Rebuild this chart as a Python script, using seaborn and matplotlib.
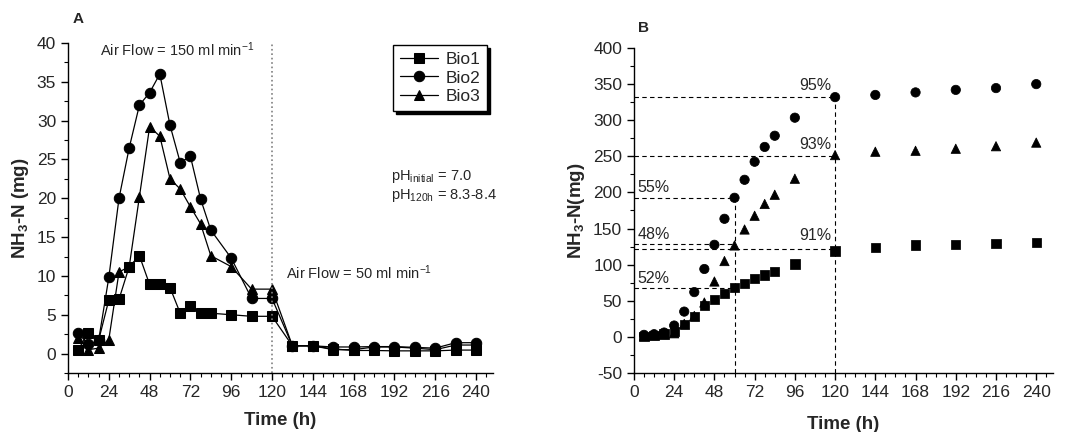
import numpy as np
import pandas as pd
import seaborn as sns
import matplotlib.pyplot as plt
from matplotlib.ticker import MultipleLocator

# Panel A: NH3-N per sampling (mg)
time_a = [6, 12, 18, 24, 30, 36, 42, 48, 54, 60, 66, 72, 78, 84, 96, 108, 120,
          132, 144, 156, 168, 180, 192, 204, 216, 228, 240]
bio1_a = [0.5, 2.7, 1.7, 6.9, 7.0, 11.2, 12.6, 8.9, 8.9, 8.5, 5.2, 6.1, 5.2, 5.2, 5.0, 4.8, 4.8,
          1.0, 1.0, 0.6, 0.4, 0.4, 0.35, 0.35, 0.35, 0.45, 0.45]
bio2_a = [2.6, 1.2, 1.7, 9.8, 20.0, 26.5, 32.0, 33.6, 36.0, 29.4, 24.6, 25.4, 19.9, 15.9, 12.3, 7.1, 7.1,
          1.0, 1.0, 0.85, 0.85, 0.9, 0.9, 0.8, 0.7, 1.4, 1.4]
bio3_a = [2.0, 0.5, 0.7, 1.8, 10.5, 11.2, 20.2, 29.2, 28.0, 22.5, 21.2, 18.9, 16.7, 12.6, 11.2, 8.3, 8.3,
          1.0, 1.0, 0.5, 0.5, 0.85, 0.85, 0.7, 0.5, 1.1, 1.1]

# Panel B: cumulative NH3-N (mg)
time_b = [6, 12, 18, 24, 30, 36, 42, 48, 54, 60, 66, 72, 78, 84, 96, 120, 144, 168, 192, 216, 240]
bio1_b = [0.5, 2.3, 4.2, 7.4, 17.5, 28, 43, 51.7, 60.5, 68.8, 74, 80.4, 85.5, 90.5, 100.7, 119,
          124, 127, 128, 129.3, 131]
bio2_b = [2.8, 3.7, 6, 15.7, 35, 62, 94, 127.5, 163.5, 192.6, 217.5, 242.5, 263, 278.5, 303.5, 332,
          335, 338.5, 342, 344.5, 350]
bio3_b = [1.4, 2.3, 3.7, 5, 18, 29, 47.6, 76.7, 105, 126.6, 148.7, 167.7, 184, 196.8, 219, 251.7,
          256.4, 257.7, 260.5, 264, 269]

series = ["Bio1", "Bio2", "Bio3"]
marks = ["s", "o", "^"]

# percentage guides: (label, y, x end, label x, label y)
guides = [("95%", 332, 120, 118, 342), ("93%", 250, 120, 118, 260),
          ("55%", 192, 60, 2, 201), ("48%", 128, 60, 2, 136),
          ("91%", 121, 120, 118, 134), ("52%", 68, 60, 2, 75)]

df_a = pd.DataFrame({"time": time_a * 3, "value": bio1_a + bio2_a + bio3_a,
                     "reactor": np.repeat(series, len(time_a))})
df_b = pd.DataFrame({"time": time_b * 3, "value": bio1_b + bio2_b + bio3_b,
                     "reactor": np.repeat(series, len(time_b))})

sns.set_theme(style="ticks")
plt.rcParams["font.family"] = ["Liberation Sans", "DejaVu Sans"]
plt.rcParams["mathtext.fontset"] = "custom"
plt.rcParams["mathtext.rm"] = "Liberation Sans"
plt.rcParams["mathtext.it"] = "Liberation Sans:italic"
plt.rcParams["mathtext.bf"] = "Liberation Sans:bold"
plt.rcParams["axes.unicode_minus"] = False
plt.rcParams["xtick.labelsize"] = 12.5
plt.rcParams["ytick.labelsize"] = 12.5

fig = plt.figure(figsize=(10.66, 4.32), dpi=100)
ax1 = fig.add_axes([0.0638, 0.1366, 0.3987, 0.7639])
ax2 = fig.add_axes([0.5947, 0.1366, 0.3931, 0.7523])

sns.lineplot(data=df_a, x="time", y="value", hue="reactor", style="reactor",
             markers=marks, dashes=False, palette=["black"] * 3, ax=ax1,
             markersize=7.5, linewidth=0.9, markeredgecolor="black")
ax1.axvline(120, color="gray", linestyle=":", linewidth=1.2)
ax1.set_xlim(0, 250)
ax1.set_ylim(-2.5, 40)
ax1.set_xticks(range(0, 241, 24))
ax1.xaxis.set_minor_locator(MultipleLocator(6))
ax1.yaxis.set_major_locator(MultipleLocator(5))
ax1.yaxis.set_minor_locator(MultipleLocator(2.5))
ax1.set_xlabel("Time (h)", fontsize=13.5, fontweight="bold", labelpad=9)
ax1.set_ylabel(r"NH$_\mathbf{3}$-N (mg)", fontsize=13.5, fontweight="bold")
ax1.text(64, 38.3, r"Air Flow = 150 ml min$^{-1}$", ha="center", fontsize=10.5)
ax1.text(171, 9.6, r"Air Flow = 50 ml min$^{-1}$", ha="center", fontsize=10.5)
ax1.text(190, 22.3, r"pH$_{\mathrm{initial}}$ = 7.0", fontsize=10.5)
ax1.text(190, 19.9, r"pH$_{\mathrm{120h}}$ = 8.3-8.4", fontsize=10.5)
leg = ax1.legend(loc="upper right", bbox_to_anchor=(0.994, 1.005), fancybox=False,
                 edgecolor="black", framealpha=1, fontsize=12.5, handlelength=2.2,
                 labelspacing=0.2, borderaxespad=0.2, handletextpad=0.4,
                 shadow={"color": "black", "alpha": 1})
leg.get_frame().set_linewidth(1.0)
ax1.text(0.01, 1.06, "A", transform=ax1.transAxes, fontsize=11, fontweight="bold",
         ha="left")

sns.scatterplot(data=df_b, x="time", y="value", hue="reactor", style="reactor",
                markers=marks, palette=["black"] * 3, ax=ax2, s=45,
                edgecolor="black", legend=False)
for label, yv, xe, lx, ly in guides:
    ax2.plot([0, xe], [yv, yv], color="black", linestyle="--", linewidth=0.8, dashes=(4, 3))
    ax2.text(lx, ly, label, ha="right" if lx > 50 else "left", fontsize=11.5)
ax2.plot([60, 60], [-50, 192], color="black", linestyle="--", linewidth=0.8, dashes=(4, 3))
ax2.plot([120, 120], [-50, 332], color="black", linestyle="--", linewidth=0.8, dashes=(4, 3))
ax2.set_xlim(0, 250)
ax2.set_ylim(-50, 400)
ax2.set_xticks(range(0, 241, 24))
ax2.xaxis.set_minor_locator(MultipleLocator(6))
ax2.yaxis.set_major_locator(MultipleLocator(50))
ax2.yaxis.set_minor_locator(MultipleLocator(25))
ax2.set_xlabel("Time (h)", fontsize=13.5, fontweight="bold", labelpad=12)
ax2.set_ylabel(r"NH$_\mathbf{3}$-N(mg)", fontsize=13.5, fontweight="bold")
ax2.text(0.01, 1.05, "B", transform=ax2.transAxes, fontsize=11, fontweight="bold")

for ax in (ax1, ax2):
    sns.despine(ax=ax)
    ax.tick_params(which="major", length=5, width=1, color="black")
    ax.tick_params(which="minor", length=3, width=0.8, color="black")
    for sp in ("left", "bottom"):
        ax.spines[sp].set_color("black")
        ax.spines[sp].set_linewidth(1.0)

fig.savefig("out.png", dpi=100)
